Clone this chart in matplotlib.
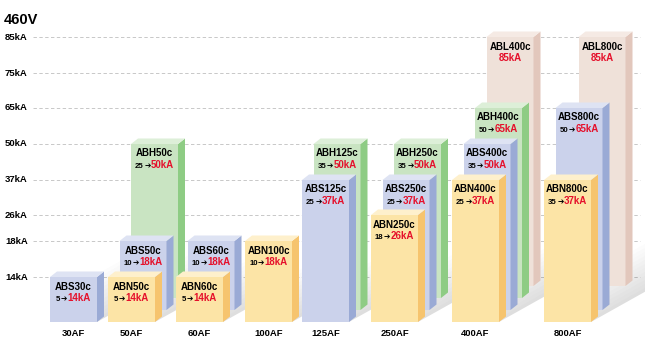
import numpy as np
import matplotlib.pyplot as plt
from matplotlib.patches import Polygon
from matplotlib.offsetbox import TextArea, HPacker, AnnotationBbox

plt.rcParams['font.family'] = ['Liberation Sans', 'DejaVu Sans']

# chart data
title = "460V"
tick_vals = [14, 18, 26, 37, 50, 65, 75, 85]
groups = ['30AF', '50AF', '60AF', '100AF', '125AF', '250AF', '400AF', '800AF']
bar_group = [0, 1, 1, 1, 2, 2, 3, 4, 4, 5, 5, 5, 6, 6, 6, 6, 7, 7, 7]
bar_model = ['ABS30c', 'ABN50c', 'ABS50c', 'ABH50c', 'ABN60c', 'ABS60c', 'ABN100c',
             'ABS125c', 'ABH125c', 'ABN250c', 'ABS250c', 'ABH250c',
             'ABN400c', 'ABS400c', 'ABH400c', 'ABL400c', 'ABN800c', 'ABS800c', 'ABL800c']
bar_from = [5, 5, 10, 25, 5, 10, 10, 25, 35, 18, 25, 35, 25, 35, 50, None, 35, 50, None]
bar_to = [14, 14, 18, 50, 14, 18, 18, 37, 50, 26, 37, 50, 37, 50, 65, 85, 37, 65, 85]
bar_row = [0, 0, 1, 2, 0, 1, 0, 0, 1, 0, 1, 2, 0, 1, 2, 3, 0, 1, 3]

# layout (pixel-like units)
tick_y = [277, 241, 215, 180, 144, 108, 73, 37]   # vertical position of each level
group_x = [50, 108, 176, 245, 302, 371, 452, 544]  # left edge of front bar
base_y = 322
face_w = 47
dep_x, dep_y = 7, 5.5       # 3d depth of a box
row_x, row_y = 11.5, 12     # shift per row going back

colors = {  # front, side, top
    'ABN': ('#FCE4A6', '#F6C46E', '#FEF0CC'),
    'ABS': ('#CBD2EB', '#9AAAD5', '#DEE3F3'),
    'ABH': ('#C9E4C2', '#8ECC84', '#DDEFD8'),
    'ABL': ('#EFE1D9', '#E2C7BC', '#F5EAE4'),
}
red = '#E5102B'


def y_of(v):
    return np.interp(v, tick_vals, tick_y)


fig = plt.figure(figsize=(6.45, 3.52), dpi=100)
ax = fig.add_axes([0, 0, 1, 1])
ax.set_xlim(0, 645)
ax.set_ylim(352, 0)
ax.axis('off')

ax.text(4, 20, title, fontsize=10.5, fontweight='bold', va='center', ha='left')

# grid lines and level labels
for v in tick_vals:
    ax.hlines(y_of(v), 33, 640, colors='#c8c8c8', linestyles=(0, (3.5, 2.5)), linewidth=0.7, zorder=0)
    ax.text(5, y_of(v), f'{v}kA', fontsize=6.8, fontweight='bold', va='center', ha='left')

for i, g in enumerate(groups):
    ax.text(group_x[i] + face_w / 2, 334, g, fontsize=6.8, fontweight='bold', ha='center', va='center')

# soft floor shadow behind each group, cast up and to the right
L, s, h, nb = 58, 0.56, 4, 12
for gi in range(len(groups)):
    x1 = group_x[gi] + face_w
    for k in range(nb):
        pts = [(x1, base_y - k * h), (x1 + L, base_y - s * L - k * h),
               (x1 + L, base_y - s * L - (k + 1) * h), (x1, base_y - (k + 1) * h)]
        ax.add_patch(Polygon(pts, closed=True, facecolor='black', alpha=0.13 * (1 - k / nb),
                             edgecolor='none', zorder=1))

# boxes, back rows first
order = sorted(range(len(bar_model)), key=lambda k: (-bar_row[k], bar_group[k]))
for z, i in enumerate(order):
    front, side, top = colors[bar_model[i][:3]]
    x0 = group_x[bar_group[i]] + bar_row[i] * row_x
    yb = base_y - bar_row[i] * row_y
    yt = y_of(bar_to[i])
    x1 = x0 + face_w
    zz = 2 + z
    ax.add_patch(Polygon([(x0, yb), (x1, yb), (x1, yt), (x0, yt)], facecolor=front, edgecolor='none', zorder=zz))
    ax.add_patch(Polygon([(x1, yb), (x1 + dep_x, yb - dep_y), (x1 + dep_x, yt - dep_y), (x1, yt)],
                         facecolor=side, edgecolor='none', zorder=zz))
    ax.add_patch(Polygon([(x0, yt), (x0 + dep_x, yt - dep_y), (x1 + dep_x, yt - dep_y), (x1, yt)],
                         facecolor=top, edgecolor='none', zorder=zz))
    cx = x0 + face_w / 2
    ax.text(cx, yt + 9.5, bar_model[i], fontsize=7, fontweight='bold', ha='center', va='center', zorder=zz)
    red_part = TextArea(f'{bar_to[i]}kA', textprops=dict(color=red, fontsize=7, fontweight='bold'))
    if bar_from[i] is None:
        line = red_part
    else:
        num = TextArea(f'{bar_from[i]}', textprops=dict(color='black', fontsize=5.6, fontweight='bold'))
        arrow = TextArea('\u2794', textprops=dict(color='black', fontsize=5.5, family='DejaVu Sans'))
        line = HPacker(children=[num, arrow, red_part], align='baseline', pad=0, sep=0.3)
    ab = AnnotationBbox(line, (cx, yt + 21), frameon=False, box_alignment=(0.5, 0.5), pad=0, zorder=zz)
    ax.add_artist(ab)

fig.savefig('out.png', dpi=100)
